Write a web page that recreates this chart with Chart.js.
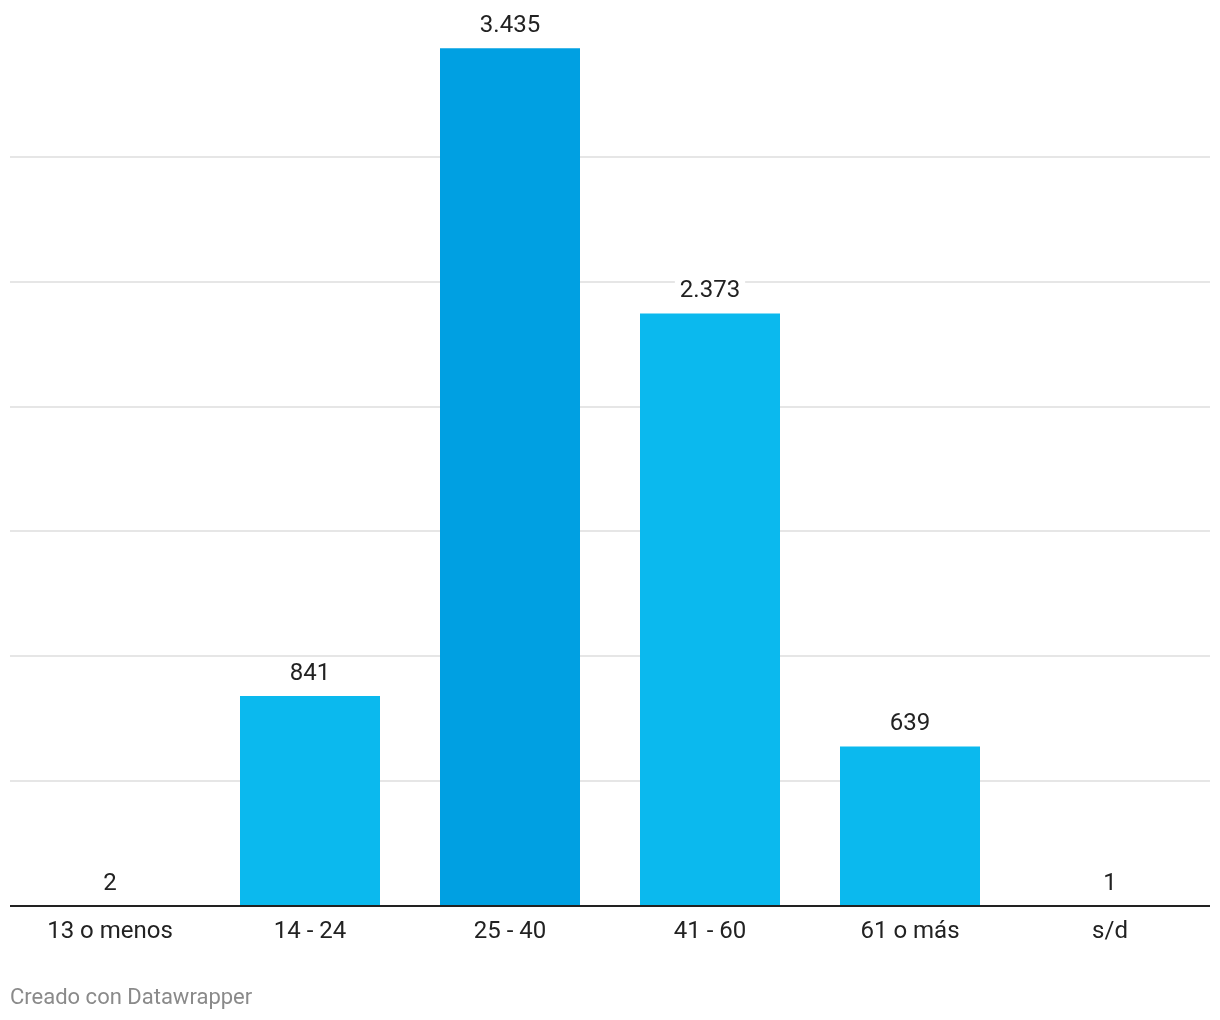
<!DOCTYPE html>
<html>
<head>
<meta charset="utf-8">
<script src="https://cdn.jsdelivr.net/npm/chart.js@4"></script>
<style>
  html, body { margin: 0; padding: 0; background: #fff; }
  #wrap { width: 1220px; height: 1020px; position: relative; }
</style>
</head>
<body>
<div id="wrap"><canvas id="chart" width="1220" height="1020"></canvas></div>
<script>
const categories = ['13 o menos', '14 - 24', '25 - 40', '41 - 60', '61 o más', 's/d'];
const values = [2, 841, 3435, 2373, 639, 1];
const highlighted = [false, false, true, false, false, false];
const gridValues = [0, 500, 1000, 1500, 2000, 2500, 3000];

const BAR = '#0bb9ee';
const BAR_HI = '#00a0e2';
const FONT = 'Roboto, "Noto Sans", sans-serif';

const fmt = (v) => v.toLocaleString('de-DE');

// value labels above bars (white box cuts the gridlines) + baseline on top
const valueLabels = {
  id: 'valueLabels',
  afterDatasetsDraw(chart) {
    const ctx = chart.ctx;
    const area = chart.chartArea;
    const meta = chart.getDatasetMeta(0);
    ctx.save();
    ctx.strokeStyle = '#222';
    ctx.lineWidth = 2;
    ctx.beginPath();
    ctx.moveTo(area.left, area.bottom);
    ctx.lineTo(area.right, area.bottom);
    ctx.stroke();

    ctx.font = '24px ' + FONT;
    ctx.textAlign = 'center';
    ctx.textBaseline = 'middle';
    meta.data.forEach((bar, i) => {
      const txt = fmt(values[i]);
      const y = bar.y - 23;
      const w = ctx.measureText(txt).width;
      ctx.fillStyle = '#fff';
      ctx.fillRect(bar.x - w / 2 - 5, y - 13, w + 10, 26);
      ctx.fillStyle = '#222';
      ctx.fillText(txt, bar.x, y + 1);
    });
    ctx.restore();
  }
};

const footer = {
  id: 'footer',
  afterDraw(chart) {
    const ctx = chart.ctx;
    ctx.save();
    ctx.font = '22px ' + FONT;
    ctx.fillStyle = '#8a8a8a';
    ctx.textAlign = 'left';
    ctx.textBaseline = 'middle';
    ctx.fillText('Creado con Datawrapper', 10, 998);
    ctx.restore();
  }
};

new Chart(document.getElementById('chart').getContext('2d'), {
  type: 'bar',
  data: {
    labels: categories,
    datasets: [{
      data: values,
      backgroundColor: highlighted.map((h) => (h ? BAR_HI : BAR)),
      borderWidth: 0,
      categoryPercentage: 1,
      barPercentage: 0.7,
    }],
  },
  options: {
    responsive: false,
    animation: false,
    layout: { padding: { left: 10, right: 10, top: 7, bottom: 0 } },
    plugins: { legend: { display: false }, tooltip: { enabled: false } },
    scales: {
      x: {
        grid: { display: false },
        border: { display: false },
        ticks: {
          color: '#222',
          font: { family: FONT, size: 24 },
          padding: 4,
          maxRotation: 0,
        },
        afterFit(scale) { scale.height = 114; },
      },
      y: {
        min: 0,
        max: 3600,
        ticks: { display: false },
        afterBuildTicks(scale) { scale.ticks = gridValues.map((v) => ({ value: v })); },
        border: { display: false },
        grid: {
          drawTicks: false,
          lineWidth: 2,
          color: (c) => (c.tick && c.tick.value > 0 ? '#e6e6e6' : 'rgba(0,0,0,0)'),
        },
        afterFit(scale) { scale.width = 0; },
      },
    },
  },
  plugins: [valueLabels, footer],
});
</script>
</body>
</html>
